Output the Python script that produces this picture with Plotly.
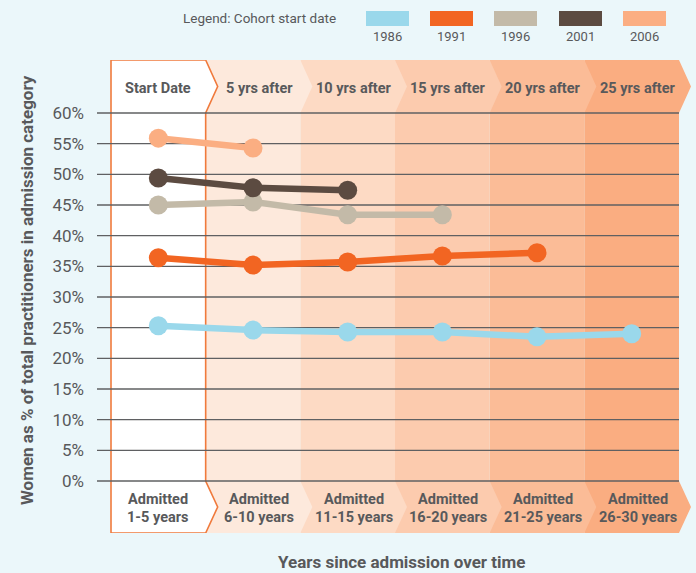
import plotly.graph_objects as go

# ---- data ----
periods = ["Start Date", "5 yrs after", "10 yrs after", "15 yrs after", "20 yrs after", "25 yrs after"]
admit_line1 = ["Admitted"] * 6
admit_line2 = ["1-5 years", "6-10 years", "11-15 years", "16-20 years", "21-25 years", "26-30 years"]
cohorts = ["1986", "1991", "1996", "2001", "2006"]
pct_1986 = [25.3, 24.6, 24.3, 24.3, 23.5, 24.0]
pct_1991 = [36.4, 35.2, 35.7, 36.7, 37.2]
pct_1996 = [45.0, 45.5, 43.4, 43.4]
pct_2001 = [49.4, 47.8, 47.4]
pct_2006 = [55.9, 54.3]
y_ticks = list(range(0, 61, 5))

series = [pct_1986, pct_1991, pct_1996, pct_2001, pct_2006]
cohort_colors = ["#9AD8EB", "#F26522", "#C3BAA8", "#5C4B41", "#FBAE82"]
column_fills = ["#FFFFFF", "#FDE9DC", "#FDDAC4", "#FCCBAE", "#FBBC97", "#FAAD81"]

FONT = "Roboto, Liberation Sans Narrow, sans-serif"
TEXT = "#58595B"
BG = "#EBF7FA"

W, H = 696, 573
ML, MR, MT, MB = 97, 4, 60, 40
PW, PH = W - ML - MR, H - MT - MB

# axis ranges: one unit per column on x, percent on y
X_RANGE = [-0.6479, 5.6373]
Y_TOP, Y_BOT = 68.641, -8.478
px_per_x = PW / (X_RANGE[1] - X_RANGE[0])
TIP = 12 / px_per_x                 # chevron point depth
HEAD_MID = (Y_TOP + 60) / 2
FOOT_MID = (0 + Y_BOT) / 2


def paper_x(px):
    return (px - ML) / PW


def paper_y(py):
    return (MT + PH - py) / PH


def label(text, x, y, size, bold=True, xref="x", yref="y", **kw):
    return dict(x=x, y=y, xref=xref, yref=yref, text=text, showarrow=False,
                xanchor=kw.pop("xanchor", "center"), yanchor="middle",
                font=dict(family=FONT, size=size, color=TEXT,
                          weight="bold" if bold else "normal"), **kw)


fig = go.Figure()

shapes = []
annotations = []

# column bands with chevron header/footer, drawn right to left so each point overlaps the next band
n = len(periods)
for i in reversed(range(n)):
    x0, x1 = i - 0.5, i + 0.5
    path = (f"M {x0},{Y_TOP} L {x1},{Y_TOP} L {x1 + TIP},{HEAD_MID} L {x1},60 "
            f"L {x1},0 L {x1 + TIP},{FOOT_MID} L {x1},{Y_BOT} L {x0},{Y_BOT} Z")
    if i == 0:
        line = dict(color="#F07A3C", width=1.6)
    else:
        line = dict(width=0)
    shapes.append(dict(type="path", path=path, xref="x", yref="y",
                       fillcolor=column_fills[i], line=line, layer="below"))

# horizontal gridlines
for v in y_ticks:
    shapes.append(dict(type="line", xref="x", yref="y", x0=X_RANGE[0], x1=n - 0.5,
                       y0=v, y1=v, line=dict(color="#5F6062", width=1.4), layer="below"))

# header and footer labels
for i in range(n):
    cx = i + (TIP / 2 if i > 0 else 0)
    annotations.append(label(periods[i], cx, HEAD_MID, 14.5, yshift=-2))
    annotations.append(label(admit_line1[i], cx, FOOT_MID, 14.5, yshift=7.5))
    annotations.append(label(admit_line2[i], cx, FOOT_MID, 14.5, yshift=-10))

# cohort lines
for name, vals, col in zip(cohorts, series, cohort_colors):
    fig.add_trace(go.Scatter(
        x=list(range(len(vals))), y=vals, mode="lines+markers", name=name,
        line=dict(color=col, width=6.5), marker=dict(color=col, size=19),
        hoverinfo="skip", showlegend=False, cliponaxis=False))

# legend row
annotations.append(label("Legend: Cohort start date", paper_x(338), paper_y(18), 13.5,
                         bold=False, xref="paper", yref="paper", xanchor="right"))
sw_left = [366, 430, 494, 559, 623]
for name, col, lx in zip(cohorts, cohort_colors, sw_left):
    shapes.append(dict(type="rect", xref="paper", yref="paper",
                       x0=paper_x(lx), x1=paper_x(lx + 43), y0=paper_y(26), y1=paper_y(11),
                       fillcolor=col, line=dict(width=0)))
    annotations.append(label(name, paper_x(lx + 21.5), paper_y(36), 13, bold=False,
                             xref="paper", yref="paper"))

# axis titles
annotations.append(label("Women as % of total practitioners in admission category",
                         paper_x(27), paper_y(290), 17, xref="paper", yref="paper",
                         textangle=-90))
annotations.append(label("Years since admission over time", paper_x(401), paper_y(562), 17,
                         xref="paper", yref="paper"))

fig.update_layout(
    width=W, height=H,
    margin=dict(l=ML, r=MR, t=MT, b=MB),
    paper_bgcolor=BG, plot_bgcolor=BG,
    shapes=shapes, annotations=annotations,
    xaxis=dict(range=X_RANGE, visible=False, fixedrange=True),
    yaxis=dict(range=[Y_BOT, Y_TOP], tickvals=y_ticks,
               ticktext=[f"{v}%" for v in y_ticks],
               showgrid=False, zeroline=False, showline=False,
               ticks="", ticklabelstandoff=12,
               tickfont=dict(family=FONT, size=17, color=TEXT), fixedrange=True),
)

fig.write_html("out.html")
